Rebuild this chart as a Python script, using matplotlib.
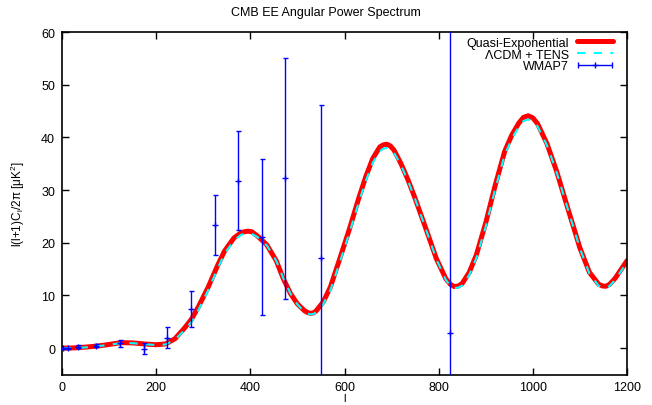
import numpy as np
import matplotlib
matplotlib.use('Agg')
import matplotlib.pyplot as plt
from matplotlib.legend_handler import HandlerErrorbar

plt.rcParams['font.family'] = ['Liberation Sans', 'DejaVu Sans']

ell = [2, 25, 50, 75, 100, 125, 150, 175, 200, 220, 240, 260, 275, 290, 310, 330,
       345, 365, 380, 388, 395, 403, 415, 435, 455, 470, 485, 500, 515, 522, 528,
       534, 540, 555, 570, 590, 610, 630, 645, 660, 675, 683, 690, 697, 705, 720,
       735, 750, 770, 795, 815, 825, 833, 842, 850, 865, 880, 900, 920, 940, 955,
       970, 980, 990, 1000, 1010, 1030, 1050, 1075, 1100, 1120, 1140, 1148, 1155,
       1163, 1175, 1200]

# Quasi-Exponential model
quasi_exp = [0.0, 0.05, 0.2, 0.4, 0.7, 1.05, 1.0, 0.8, 0.65, 0.8, 1.8, 3.8, 5.5, 7.9,
             11.5, 15.6, 18.4, 20.9, 21.9, 22.1, 22.2, 22.1, 21.3, 19.6, 16.6, 13.2,
             10.4, 8.4, 7.1, 6.75, 6.6, 6.7, 7.1, 8.8, 11.6, 17.0, 22.5, 28.4, 32.5,
             36.0, 38.2, 38.6, 38.7, 38.4, 37.6, 35.0, 31.9, 28.4, 23.4, 17.0, 13.2,
             12.1, 11.7, 11.8, 12.3, 14.4, 17.7, 23.8, 30.9, 37.3, 40.4, 42.7, 43.8,
             44.1, 43.7, 42.6, 38.8, 33.7, 26.3, 19.0, 14.4, 12.1, 11.8, 11.75, 12.1,
             13.3, 16.6]

# LCDM + tensors
lcdm_tens = [0.0, 0.0, 0.15, 0.35, 0.65, 0.95, 0.95, 0.75, 0.6, 0.7, 1.6, 3.4, 5.0, 7.3,
             10.9, 15.0, 17.9, 20.4, 21.5, 21.7, 21.8, 21.7, 21.1, 19.5, 16.6, 13.3,
             10.4, 8.3, 6.9, 6.55, 6.4, 6.5, 6.8, 8.4, 11.0, 16.3, 21.8, 27.6, 31.7,
             35.2, 37.4, 37.85, 38.0, 37.75, 37.1, 34.7, 31.7, 28.3, 23.3, 16.9, 13.0,
             11.8, 11.4, 11.5, 11.9, 13.9, 17.1, 23.1, 30.2, 36.6, 39.7, 42.0, 43.1,
             43.4, 43.1, 42.1, 38.5, 33.5, 26.2, 18.9, 14.2, 11.8, 11.5, 11.45, 11.8,
             13.0, 16.3]

# WMAP7 binned EE
wmap_l = [2, 13, 35, 73, 124, 174, 224, 274, 324, 374, 424, 474, 549, 824]
wmap_cl = [0.0, 0.0, 0.3, 0.5, 0.9, -0.15, 2.0, 7.5, 23.4, 31.8, 21.1, 32.2, 17.2, 2.8]
wmap_err = [0.1, 0.1, 0.35, 0.3, 0.6, 1.05, 2.0, 3.4, 5.7, 9.4, 14.8, 22.8, 29.0, 70.0]

fig = plt.figure(figsize=(6.52, 4.06), dpi=100)
ax = fig.add_axes([0.0951, 0.0751, 0.8666, 0.8436])

ax.plot(ell, quasi_exp, color='red', lw=3.6, solid_capstyle='round',
        solid_joinstyle='round', label='Quasi-Exponential', zorder=2)
ax.plot(ell, lcdm_tens, color='cyan', lw=1.5, dashes=(4, 4),
        label='ΛCDM + TENS', zorder=3)
ax.errorbar(wmap_l, wmap_cl, yerr=wmap_err, fmt='+', color='blue', ms=4,
            mew=1.0, elinewidth=1.0, capsize=1.8, capthick=1.0, zorder=4)
# legend proxy (horizontal bar like gnuplot)
proxy = ax.errorbar([np.nan], [np.nan], xerr=[1], fmt='+', color='blue', ms=5,
                    mew=1.0, elinewidth=1.0, capsize=2.5, capthick=1.0, label='WMAP7')

ax.set_xlim(0, 1200)
ax.set_ylim(-5, 60)
ax.set_xticks(np.arange(0, 1201, 200))
ax.set_yticks(np.arange(0, 61, 10))
ax.tick_params(direction='in', length=5, width=1, top=True, right=True,
               labelsize=9, pad=5)
for s in ax.spines.values():
    s.set_linewidth(1.2)

ax.set_xlabel('l', fontsize=8)
ax.xaxis.set_label_coords(0.5, -0.053)
ax.set_ylabel(r'l(l+1)C$_\mathregular{l}$/2π [μK$^\mathregular{2}$]', fontsize=8.5,
              labelpad=10)
fig.suptitle('CMB EE Angular Power Spectrum', fontsize=9, y=0.982)

ax.legend(loc='upper right', bbox_to_anchor=(0.975, 0.986), frameon=False,
          markerfirst=False, fontsize=9, handlelength=2.85, handletextpad=0.65,
          labelspacing=-0.02, borderpad=0, borderaxespad=0,
          handler_map={proxy: HandlerErrorbar(xerr_size=1.38)})

fig.savefig('out.png', dpi=100)
